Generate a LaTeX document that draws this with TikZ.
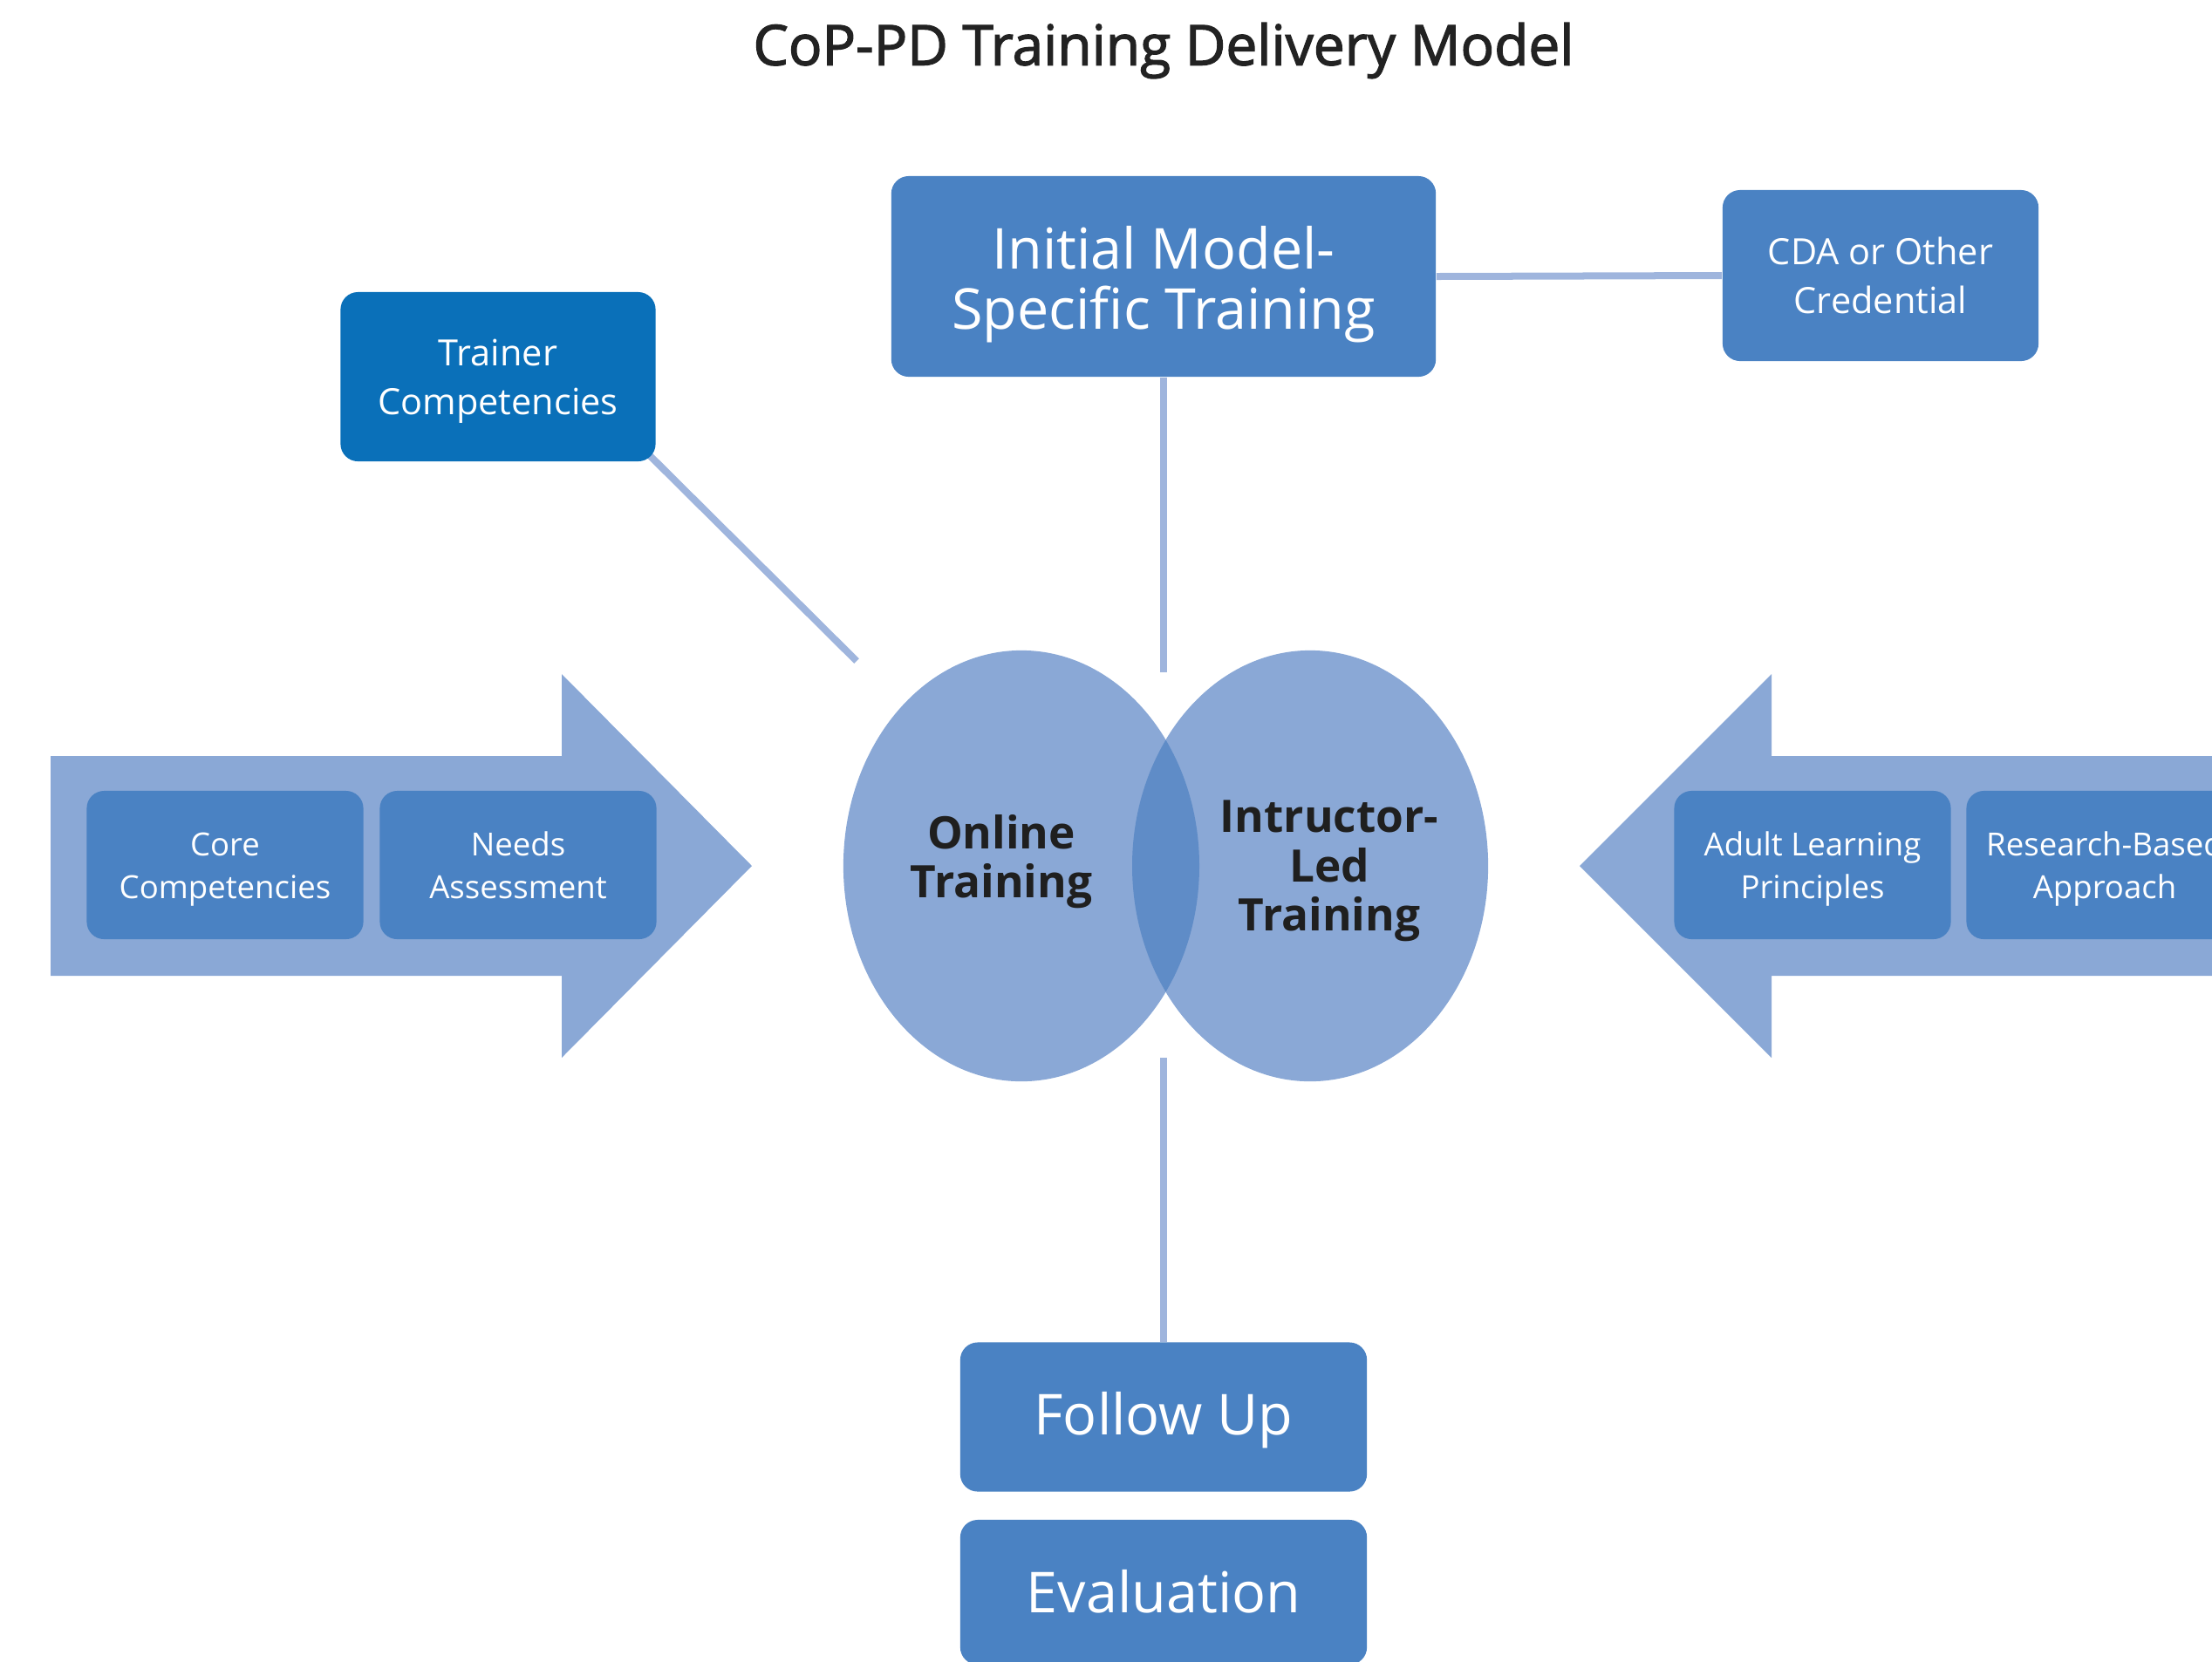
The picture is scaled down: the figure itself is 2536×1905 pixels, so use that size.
\documentclass[tikz,border=0pt]{standalone}
\usepackage{fontspec}
\setmainfont{Open Sans}
\newfontfamily\titlefont[FakeBold=2]{Open Sans}
\usetikzlibrary{shapes.geometric,backgrounds}
\definecolor{boxblue}{HTML}{4A82C3}
\definecolor{darkbox}{HTML}{0A70B9}
\definecolor{lightblue}{HTML}{8AA8D6}
\definecolor{lineblue}{HTML}{9FB5DD}
\definecolor{overlap}{HTML}{5F8CC7}
\definecolor{darktext}{HTML}{1F1F1F}
\definecolor{titlegray}{HTML}{222222}
\begin{document}
\begin{tikzpicture}[x=0.01cm,y=-0.01cm,
  box/.style={rounded corners=0.2cm, fill=boxblue, text=white, align=center, inner sep=0pt, text depth=0pt},
  smallbox/.style={box, minimum width=3.17cm, minimum height=1.70cm, text height=21.7pt, font=\fontsize{10.4}{13.8}\selectfont},
  midbox/.style={box, text height=24.9pt, font=\fontsize{11.8}{15.9}\selectfont},
  bigbox/.style={box, font=\fontsize{18.4}{19.8}\selectfont},
  conn/.style={draw=lineblue, line width=0.08cm},
  ell/.style={ellipse, fill=lightblue, minimum width=4.08cm, minimum height=4.94cm, inner sep=0pt},
  elltext/.style={align=center, text=darktext, font=\bfseries\fontsize{14.6}{16.1}\selectfont},
  bigarrow/.style={fill=lightblue}]
\useasboundingbox (0,0) rectangle (2536,1905);
\clip (0,0) rectangle (2536,1905);

% title
\node[font=\titlefont\fontsize{18.2}{22}\selectfont, text=titlegray] (title) at (1334,58) {CoP-PD Training Delivery Model};

% big side arrows
\path[bigarrow] (58,867) -- (644,867) -- (644,773) -- (862,993) -- (644,1213) -- (644,1119) -- (58,1119) -- cycle;
\path[bigarrow] (2546,867) -- (2031,867) -- (2031,773) -- (1811,993) -- (2031,1213) -- (2031,1119) -- (2546,1119) -- cycle;

% boxes
\node[bigbox, text height=34.6pt, minimum width=6.24cm, minimum height=2.30cm] (initial) at (1334,317) {Initial Model-\\Specific Training};
\node[midbox, minimum width=3.62cm, minimum height=1.96cm] (cda) at (2156,316) {CDA or Other\\Credential};
\node[midbox, fill=darkbox, minimum width=3.61cm, minimum height=1.94cm] (trainer) at (571,432) {Trainer\\Competencies};

\node[smallbox] (core) at (258,992) {Core\\Competencies};
\node[smallbox] (needs) at (594,992) {Needs\\Assessment};
\node[smallbox] (adult) at (2078,992) {Adult Learning\\Principles};
\node[smallbox] (research) at (2413,992) {Research-Based\\Approach};

\node[bigbox, text height=11.4pt, minimum width=4.66cm, minimum height=1.71cm] (follow) at (1334,1625) {Follow Up};
\node[bigbox, text height=13.1pt, minimum width=4.66cm, minimum height=1.66cm] (eval) at (1334,1826) {Evaluation};

% ellipses (Venn)
\node[ell] (online) at (1171,993) {};
\node[ell] (ilt) at (1502,993) {};
\begin{scope}
  \clip (1171,993) ellipse [x radius=204, y radius=247];
  \fill[overlap] (1502,993) ellipse [x radius=204, y radius=247];
\end{scope}
\node[elltext] (onlinetxt) at (1148,988) {Online\\Training};
\node[elltext] (ilttxt) at (1524,999) {Intructor-\\Led\\Training};

% connectors
\coordinate (topend) at (1334,771);
\coordinate (botend) at (1334,1213);
\coordinate (diagend) at (982,758);
\begin{scope}[on background layer]
  \draw[conn] (initial.east) -- (cda.west);
  \draw[conn] (initial.south) -- (topend);
  \draw[conn] (botend) -- (follow.north);
  \draw[conn] (trainer.south east) ++(-8,-8) -- (diagend);
\end{scope}
\end{tikzpicture}
\end{document}
